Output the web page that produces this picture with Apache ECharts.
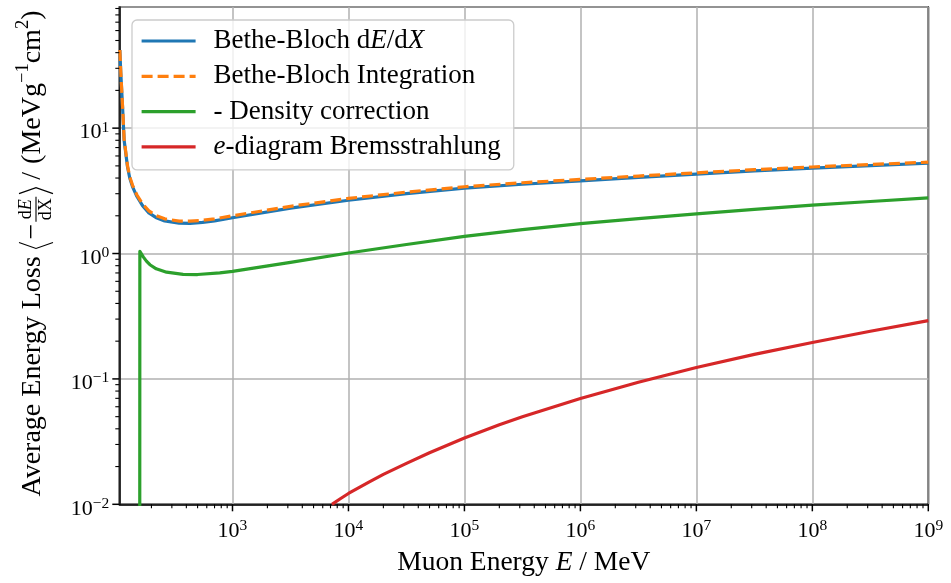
<!DOCTYPE html>
<html>
<head>
<meta charset="utf-8">
<script src="https://cdn.jsdelivr.net/npm/echarts@6/dist/echarts.min.js"></script>
<style>
  html, body { margin: 0; padding: 0; background: #ffffff; }
  #chart { width: 951px; height: 583px; }
</style>
</head>
<body>
<div id="chart"></div>
<script>
// Axis ranges (muon rest mass as the lower energy bound)
const X_MIN = 105.66, X_MAX = 1e9;
const Y_MIN = 0.01, Y_MAX = 92.5;

// Bethe-Bloch dE/dX (MeV g^-1 cm^2) vs muon energy E (MeV)
const blochE = [106.8, 108.9, 112.7, 116.3, 124.4, 130, 137.5, 150, 167.6, 190, 218, 260, 347, 430, 551, 700,
  1e3, 3.162e3, 1e4, 3.162e4, 1e5, 3.162e5, 1e6, 3.162e6, 1e7, 3.162e7, 1e8, 3.162e8, 1e9];
const blochV = [42, 27.3, 14.8, 8.0, 4.9, 4.0, 3.4, 2.85, 2.41, 2.11, 1.94, 1.82, 1.745, 1.74, 1.77, 1.82,
  1.93, 2.3, 2.66, 3.0, 3.32, 3.57, 3.8, 4.05, 4.3, 4.56, 4.8, 5.03, 5.25];

// Bethe-Bloch, integrated
const integE = blochE;
const integV = [42, 27.5, 15.0, 8.2, 5.0, 4.1, 3.5, 2.93, 2.49, 2.19, 2.01, 1.89, 1.815, 1.81, 1.84, 1.89,
  2.0, 2.38, 2.75, 3.09, 3.41, 3.67, 3.9, 4.15, 4.4, 4.66, 4.9, 5.13, 5.35];

// Density correction term (sign flipped)
const densE = [158.5, 158.9, 170, 181, 194, 220, 270, 375, 500, 777, 1e3, 3.162e3, 1e4, 3.162e4,
  1e5, 3.162e5, 1e6, 3.162e6, 1e7, 3.162e7, 1e8, 3.162e8, 1e9];
const densV = [0.001, 1.04, 0.94, 0.87, 0.814, 0.755, 0.71, 0.683, 0.68, 0.70, 0.72, 0.85, 1.01, 1.18,
  1.37, 1.55, 1.73, 1.9, 2.07, 2.25, 2.43, 2.6, 2.78];

// e-diagram bremsstrahlung
const bremsE = [7200, 8500, 1e4, 1.5e4, 2e4, 3.162e4, 5e4, 1e5, 2e5, 3.162e5, 1e6, 3.162e6, 1e7, 3.162e7, 1e8, 3.162e8, 1e9];
const bremsV = [0.01, 0.01107, 0.0122, 0.01505, 0.01733, 0.0212, 0.0258, 0.0338, 0.0431, 0.0499, 0.0697, 0.094, 0.1232, 0.1568, 0.1952, 0.24, 0.292];

// Series names and the rich-text legend labels
const seriesNames = ['Bethe-Bloch dE/dX', 'Bethe-Bloch Integration', '- Density correction', 'e-diagram Bremsstrahlung'];
const legendLabels = ['Bethe-Bloch d{i|E}/d{i|X}', 'Bethe-Bloch Integration', '- Density correction', '{i|e}-diagram Bremsstrahlung'];
const colors = ['#1f77b4', '#ff7f0e', '#2ca02c', '#d62728'];

// Tick positions: decades (major) and 2..9 multiples (minor)
const minorMult = [2, 3, 4, 5, 6, 7, 8, 9];

const SERIF = 'Liberation Serif';
const LINE_W = 3.2;

const zip = (a, b) => a.map((v, i) => [v, b[i]]);

function logTicks(decFrom, decTo, lo, hi) {
  const out = [];
  for (let d = decFrom; d <= decTo; d++) {
    const base = Math.pow(10, d);
    if (base >= lo * 0.999 && base <= hi * 1.001) out.push({ v: base, major: 1 });
    minorMult.forEach(m => {
      const v = m * base;
      if (v > lo && v < hi) out.push({ v, major: 0 });
    });
  }
  return out;
}
const xTicks = logTicks(2, 9, X_MIN, X_MAX);
const yTicks = logTicks(-2, 1, Y_MIN, Y_MAX);

function powLabel(v) {
  const e = Math.log10(v);
  const r = Math.round(e);
  if (Math.abs(e - r) > 1e-6) return '';
  const s = r < 0 ? '\u2212' + (-r) : String(r);
  return '{b|10}{s|' + s + '}';
}
const tickRich = {
  b: { fontFamily: SERIF, fontSize: 22, lineHeight: 26, color: '#000' },
  s: { fontFamily: SERIF, fontSize: 15.5, verticalAlign: 'top', color: '#000' }
};

// Y-axis title built from pieces so the fraction can be stacked
const measureCtx = document.createElement('canvas').getContext('2d');
function textWidth(str, size, italic, family) {
  measureCtx.font = (italic ? 'italic ' : '') + size + 'px "' + (family || SERIF) + '"';
  return measureCtx.measureText(str).width;
}
function buildYTitle() {
  const S = 28, SUP = 18.5, FR = 18;
  const children = [];
  let x = 0;
  function put(str, size, dy, italic) {
    children.push({
      type: 'text', x: x, y: dy,
      style: { text: str, fontSize: size, fontFamily: SERIF, fontStyle: italic ? 'italic' : 'normal',
        fill: '#000', align: 'left', verticalAlign: 'middle' }
    });
    x += textWidth(str, size, italic);
  }
  function bracket(open) {
    const w = 6, h = 17, c = 3;
    const pts = open ? [[x + w, c - h], [x, c], [x + w, c + h]] : [[x, c - h], [x + w, c], [x, c + h]];
    children.push({ type: 'polyline', shape: { points: pts }, style: { stroke: '#000', lineWidth: 1.2, fill: null } });
    x += w;
  }
  put('Average Energy Loss', S, 0);
  x += 8;
  bracket(true);
  x += 3;
  put('\u2212', S, 0);
  x += 2;
  // fraction dE / dX
  const wNum = textWidth('d', FR) + textWidth('E', FR, true);
  const wDen = textWidth('dX', FR);
  const w = Math.max(wNum, wDen) + 3;
  const fx = x;
  x = fx + (w - wNum) / 2; put('d', FR, -7); put('E', FR, -7, true);
  x = fx + (w - wDen) / 2; put('dX', FR, 13);
  children.push({ type: 'line', shape: { x1: fx, y1: 3, x2: fx + w, y2: 3 }, style: { stroke: '#000', lineWidth: 1.1 } });
  x = fx + w + 3;
  bracket(false);
  x += 8;
  put('/', S, 0);
  x += 8;
  put('(MeVg', S, 0);
  put('\u22121', SUP, -10);
  put('cm', S, 0);
  put('2', SUP, -10);
  put(')', S, 0);
  return { type: 'group', x: 33, y: 253.5 + x / 2, rotation: Math.PI / 2, children: children, silent: true };
}

function tickSeries(ticks, isX) {
  return {
    type: 'custom', silent: true, clip: false, z: 5,
    data: ticks.map(t => isX ? [t.v, Y_MIN, t.major] : [X_MIN, t.v, t.major]),
    encode: { x: 0, y: 1 },
    renderItem: (params, api) => {
      const major = api.value(2) === 1;
      const p = api.coord([api.value(0), api.value(1)]);
      const len = major ? 7 : 4;
      const shape = isX ? { x1: p[0], y1: p[1], x2: p[0], y2: p[1] + len }
                        : { x1: p[0], y1: p[1], x2: p[0] - len, y2: p[1] };
      return { type: 'line', shape: shape, style: { stroke: '#000', lineWidth: major ? 1.5 : 1.1 } };
    }
  };
}

function lineSeries(i, data, dash) {
  return {
    name: seriesNames[i], type: 'line', data: data, symbol: 'none', showSymbol: false,
    smooth: false, clip: true, z: 2 + i,
    lineStyle: { color: colors[i], width: LINE_W, type: dash || 'solid', cap: 'butt', join: 'round' },
    itemStyle: { color: colors[i] }
  };
}

const chart = echarts.init(document.getElementById('chart'), null, { renderer: 'canvas' });
chart.setOption({
  animation: false,
  backgroundColor: '#ffffff',
  grid: {
    left: 119.3, right: 22.7, top: 7, bottom: 78.7,
    show: true, borderColor: '#000', borderWidth: 1.5, backgroundColor: 'transparent',
    containLabel: false, outerBoundsMode: 'none'
  },
  legend: {
    orient: 'vertical', left: 132, top: 20,
    data: seriesNames,
    padding: [6, 13, 8, 8],
    itemWidth: 54, itemHeight: 14, itemGap: 5.3,
    backgroundColor: 'rgba(255,255,255,0.8)',
    borderColor: '#cccccc', borderWidth: 1.3, borderRadius: 5,
    selectedMode: false,
    itemStyle: { opacity: 0 },
    lineStyle: { width: LINE_W },
    formatter: name => legendLabels[seriesNames.indexOf(name)],
    textStyle: {
      fontFamily: SERIF, fontSize: 27, lineHeight: 30, color: '#000', padding: [0, 0, 0, 13],
      rich: { i: { fontFamily: SERIF, fontSize: 27, fontStyle: 'italic', color: '#000' } }
    }
  },
  xAxis: {
    type: 'log', logBase: 10, min: X_MIN, max: X_MAX,
    axisLine: { show: true, lineStyle: { color: '#000', width: 1.5 } },
    axisTick: { show: false },
    minorTick: { show: false },
    splitLine: { show: true, lineStyle: { color: '#b0b0b0', width: 1.5 } },
    axisLabel: { margin: 14, formatter: powLabel, rich: tickRich, hideOverlap: false },
    name: 'Muon Energy {i|E} / MeV', nameLocation: 'middle', nameGap: 43.4,
    nameTextStyle: {
      fontFamily: SERIF, fontSize: 27.5, lineHeight: 30, color: '#000',
      rich: { i: { fontFamily: SERIF, fontSize: 27.5, fontStyle: 'italic', color: '#000' } }
    }
  },
  yAxis: {
    type: 'log', logBase: 10, min: Y_MIN, max: Y_MAX,
    axisLine: { show: true, lineStyle: { color: '#000', width: 1.5 } },
    axisTick: { show: false },
    minorTick: { show: false },
    splitLine: { show: true, lineStyle: { color: '#b0b0b0', width: 1.5 } },
    axisLabel: { margin: 10, formatter: powLabel, rich: tickRich, padding: [9, 0, 0, 0], hideOverlap: false }
  },
  graphic: [buildYTitle()],
  series: [
    lineSeries(0, zip(blochE, blochV)),
    lineSeries(1, zip(integE, integV), [11, 5]),
    lineSeries(2, zip(densE, densV)),
    lineSeries(3, zip(bremsE, bremsV)),
    tickSeries(xTicks, true),
    tickSeries(yTicks, false)
  ]
});
</script>
</body>
</html>
